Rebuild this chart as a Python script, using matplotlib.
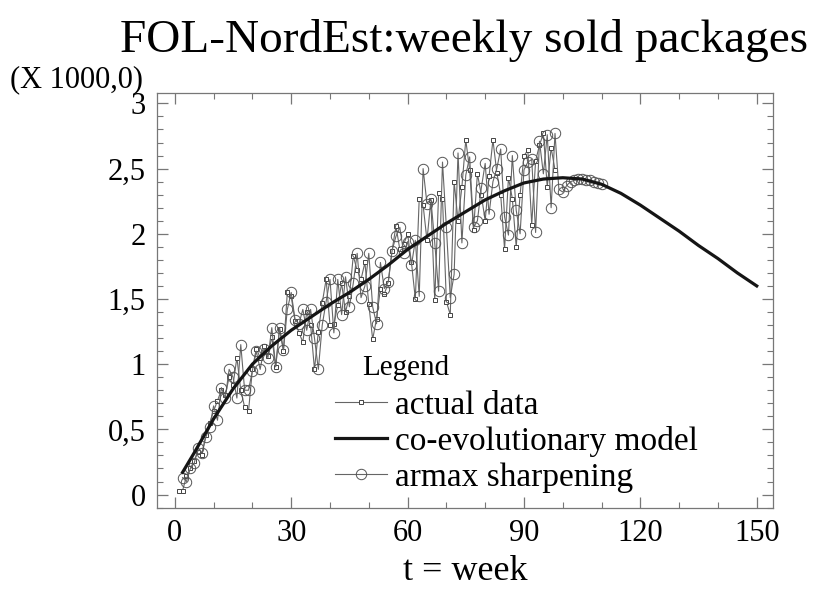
import numpy as np
import matplotlib
matplotlib.use("Agg")
import matplotlib.pyplot as plt
from matplotlib.ticker import MultipleLocator, FuncFormatter

plt.rcParams['font.family'] = ['Liberation Serif', 'DejaVu Serif']

# weekly sold packages (x 1000), weeks 1..98
actual = [0.03, 0.03, 0.14, 0.20, 0.26, 0.33, 0.30, 0.46, 0.55, 0.64,
          0.72, 0.80, 0.76, 0.90, 0.84, 1.05, 0.80, 0.67, 0.64, 0.96,
          1.12, 1.05, 1.14, 1.06, 1.21, 0.98, 1.27, 1.10, 1.55, 1.52,
          1.33, 1.24, 1.17, 1.40, 1.30, 0.96, 1.25, 1.47, 1.65, 1.30,
          1.31, 1.45, 1.62, 1.40, 1.52, 1.83, 1.72, 1.65, 1.78, 1.46,
          1.19, 1.35, 1.58, 1.54, 1.62, 1.87, 2.06, 1.88, 1.92, 2.00,
          1.78, 1.50, 2.27, 2.22, 1.95, 2.26, 1.49, 2.31, 2.27, 1.48,
          1.38, 2.40, 2.10, 2.36, 2.72, 2.49, 2.03, 2.46, 2.30, 2.10,
          2.44, 2.72, 2.47, 2.30, 1.88, 2.43, 2.27, 1.90, 2.30, 2.60,
          2.64, 2.07, 2.56, 2.68, 2.77, 2.36, 2.66, 2.49]
actual_weeks = np.arange(1, len(actual) + 1)

# armax sharpening, weeks 2..110
armax = [0.13, 0.10, 0.20, 0.24, 0.36, 0.32, 0.44, 0.52, 0.68, 0.57,
         0.82, 0.74, 0.96, 0.90, 0.74, 1.15, 0.80, 0.80, 0.95, 1.10,
         0.96, 1.12, 1.05, 1.28, 0.98, 1.28, 1.11, 1.42, 1.55, 1.34,
         1.31, 1.42, 1.26, 1.42, 1.20, 0.96, 1.30, 1.48, 1.65, 1.24,
         1.65, 1.38, 1.67, 1.44, 1.62, 1.85, 1.51, 1.60, 1.85, 1.44,
         1.31, 1.78, 1.58, 1.63, 1.87, 1.98, 2.05, 1.85, 1.94, 1.76,
         1.95, 1.52, 2.50, 2.23, 2.27, 1.93, 1.56, 2.55, 2.05, 1.51,
         1.69, 2.62, 1.93, 2.45, 2.59, 2.05, 2.10, 2.35, 2.54, 2.15,
         2.40, 2.50, 2.65, 2.13, 1.99, 2.60, 2.18, 2.00, 2.49, 2.55,
         2.57, 2.01, 2.71, 2.46, 2.76, 2.20, 2.77, 2.34, 2.32, 2.37,
         2.40, 2.41, 2.42, 2.42, 2.41, 2.41, 2.40, 2.39, 2.38]
armax_weeks = np.arange(2, len(armax) + 2)

# co-evolutionary model
model_weeks = [2, 5, 10, 15, 20, 25, 30, 35, 40, 45, 50, 55, 60, 65, 70,
               75, 80, 85, 90, 95, 100, 105, 110, 115, 120, 125, 130, 135,
               140, 145, 150]
model = [0.17, 0.32, 0.58, 0.81, 1.00, 1.14, 1.26, 1.36, 1.46, 1.55, 1.65,
         1.76, 1.88, 1.98, 2.08, 2.17, 2.26, 2.33, 2.39, 2.42, 2.43, 2.42,
         2.38, 2.31, 2.22, 2.12, 2.02, 1.91, 1.81, 1.70, 1.60]

fig = plt.figure(figsize=(8.15, 5.9), dpi=100)
ax = fig.add_axes([0.1926, 0.1397, 0.7559, 0.7027])

gray = '#666666'
ax.plot(actual_weeks, actual, color=gray, lw=0.8, marker='s', ms=3.2,
        mfc='white', mec='#444444', mew=0.7, label='actual data', zorder=3)
ax.plot(model_weeks, model, color='#151515', lw=2.3,
        label='co-evolutionary model', zorder=5)
ax.plot(armax_weeks, armax, color=gray, lw=0.8, marker='o', ms=7.5,
        mfc='none', mec='#555555', mew=0.7, label='armax sharpening', zorder=4)

ax.set_xlim(-4.6, 154.2)
ax.set_ylim(-0.1, 3.08)
ax.xaxis.set_major_locator(MultipleLocator(30))
ax.xaxis.set_minor_locator(MultipleLocator(10))
ax.yaxis.set_major_locator(MultipleLocator(0.5))
ax.yaxis.set_minor_locator(MultipleLocator(0.1))
ax.yaxis.set_major_formatter(FuncFormatter(lambda v, p: f"{v:g}".replace('.', ',')))

ax.tick_params(which='both', direction='in', top=True, right=True,
               color='#777777', labelsize=22)
ax.tick_params(axis='y', pad=8)
ax.tick_params(axis='x', pad=8)
ax.tick_params(which='major', length=8, width=0.9)
ax.tick_params(which='minor', length=4, width=0.8)
for s in ax.spines.values():
    s.set_color('#777777')
    s.set_linewidth(0.9)

ax.set_xlabel('t = week', fontsize=26)
ax.xaxis.set_label_coords(0.5, -0.114)
fig.text(0.57, 0.932, 'FOL-NordEst:weekly sold packages', fontsize=34,
         ha='center', va='center')
fig.text(0.012, 0.865, '(X 1000,0)', fontsize=22, ha='left', va='center')

leg = ax.legend(loc='upper left', bbox_to_anchor=(335 / 815, 1 - 390 / 590),
                bbox_transform=fig.transFigure, frameon=False, fontsize=24,
                handlelength=1.55, handletextpad=0.25, labelspacing=0.16,
                borderpad=0, borderaxespad=0)
fig.text(362 / 815, 1 - 368 / 590, 'Legend', fontsize=21, ha='left', va='center')

fig.savefig('out.png', dpi=100)
